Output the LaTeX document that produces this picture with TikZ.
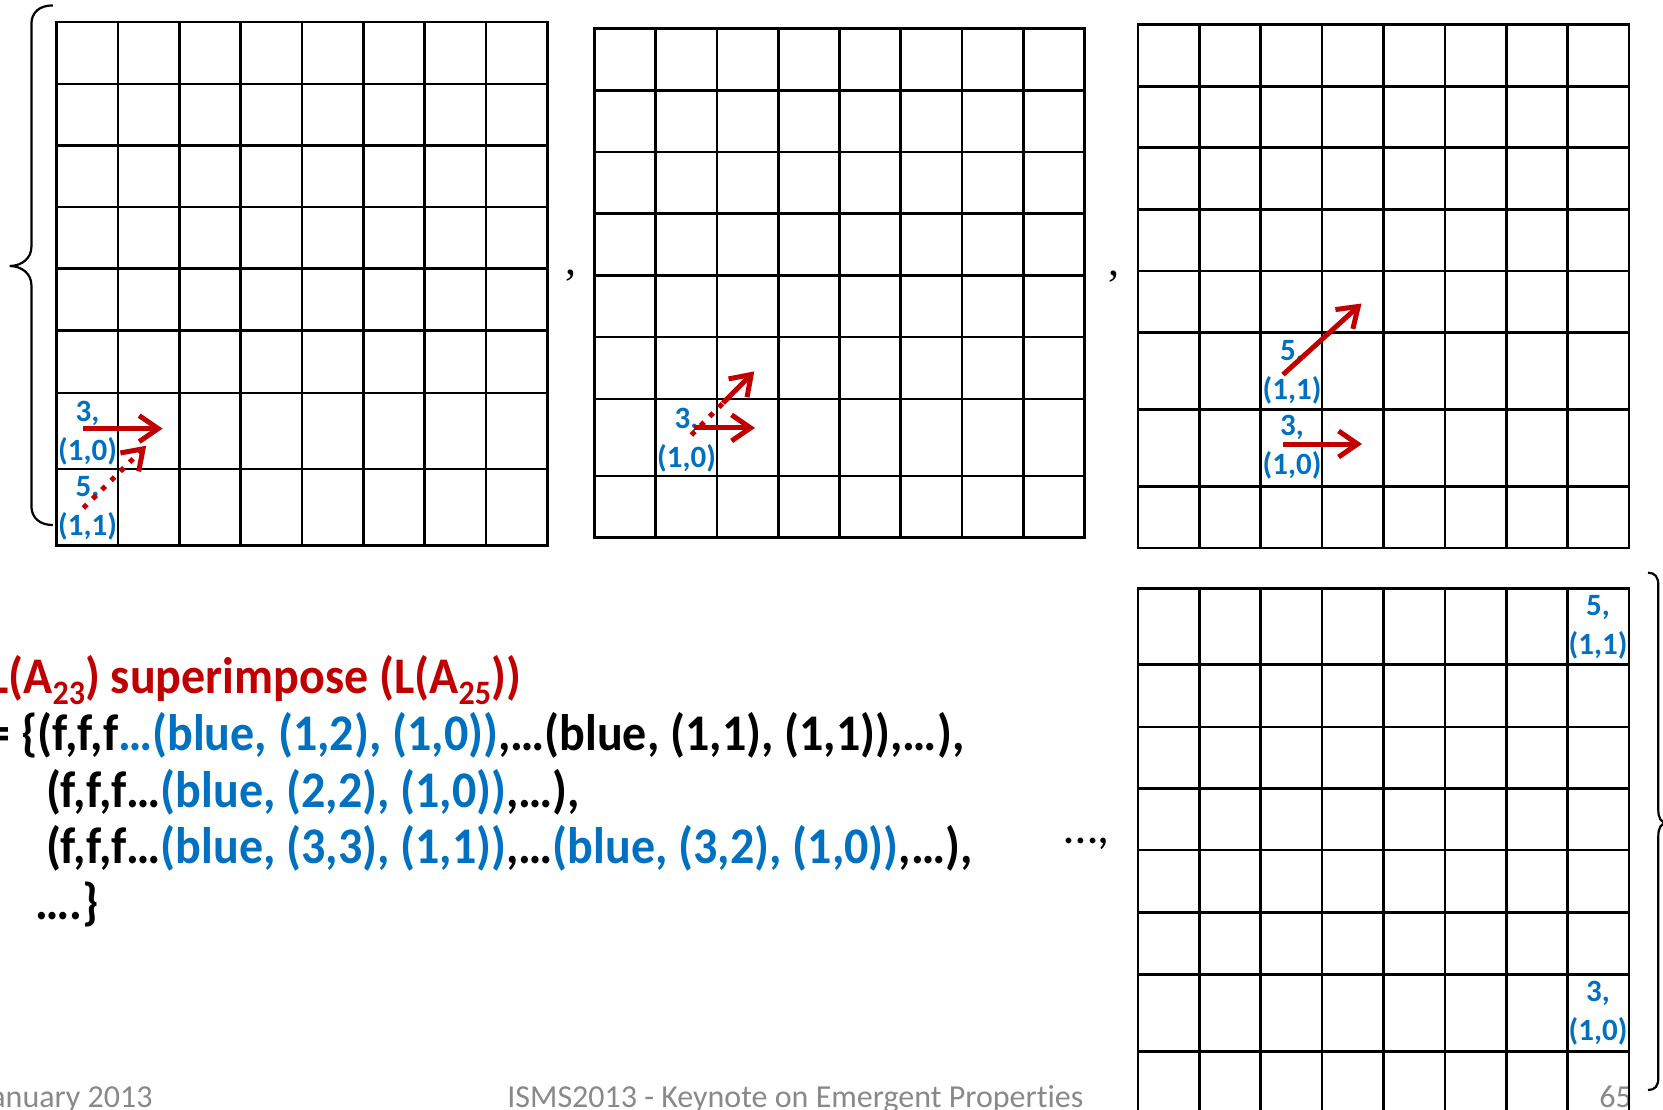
\documentclass[tikz,border=0pt]{standalone}
\usepackage{fontspec}
\setmainfont{Carlito}[Ligatures=NoCommon]
\newfontfamily\serifcomma{Liberation Serif}
\usetikzlibrary{arrows.meta}
\definecolor{slred}{RGB}{192,0,0}
\definecolor{slblue}{RGB}{0,112,192}
\definecolor{slgray}{RGB}{137,137,137}
\newcommand\sbs[1]{\raisebox{-0.22em}{\fontsize{16}{16}\selectfont #1}}
\newcommand\tallt[1]{\scalebox{1}[1.07]{#1}}
\begin{document}
\begin{tikzpicture}[x=0.5pt,y=-0.5pt,
  gridline/.style={line width=1.35pt, black, line cap=rect},
  lbl/.style={text=slblue, font=\fontsize{15.5}{19.5}\selectfont\bfseries, align=center, inner sep=0pt},
  vec/.style={draw=slred, line width=2.5pt, -{Straight Barb[length=9.5pt,width=13pt]}},
  dotvec/.style={vec, dash pattern=on 2.5pt off 4pt},
  dotseg/.style={draw=slred, line width=2.5pt, dash pattern=on 2.5pt off 4pt},
  txt/.style={font=\fontsize{24}{28}\selectfont\bfseries, inner sep=0pt, anchor=base west},
  foot/.style={font=\fontsize{16}{19}\selectfont, text=slgray, inner sep=0pt},
  brace/.style={line width=1.1pt, black},
  sep/.style={font=\serifcomma\fontsize{22}{22}\selectfont, inner sep=0pt},
]
\useasboundingbox (0,0) rectangle (1663,1109);

% footer (under the grids)
\node[foot, anchor=base east] (f1) at (153,1107) {January 2013};
\node[foot, anchor=base west] (f2) at (507,1107) {ISMS2013 - Keynote on Emergent Properties};
\node[foot, anchor=base west] (f3) at (1599,1107) {65};

% grid 1
\foreach \i in {0,...,8} \draw[gridline] ({56.6+\i*61.34},22.1) -- ({56.6+\i*61.34},545.7);
\foreach \r in {22.1,83.9,145.4,207.1,268.6,330.4,392.9,468.9,545.7} \draw[gridline] (56.6,\r) -- (547.3,\r);
% grid 2
\foreach \i in {0,...,8} \draw[gridline] ({594.3+\i*61.29},28.6) -- ({594.3+\i*61.29},537.5);
\foreach \r in {28.6,90.4,152.1,213.6,275.4,337.1,398.9,476.1,537.5} \draw[gridline] (594.3,\r) -- (1084.6,\r);
% grid 3
\foreach \i in {0,...,8} \draw[gridline] ({1138+\i*61.375},24.8) -- ({1138+\i*61.375},548.1);
\foreach \r in {24.8,86.3,147.8,209.3,270.9,332.4,409.5,486.6,548.1} \draw[gridline] (1138,\r) -- (1629,\r);
% grid 4
\foreach \i in {0,...,8} \draw[gridline] ({1138+\i*61.375},588.4) -- ({1138+\i*61.375},1125);
\foreach \r in {588.4,664.8,727.0,788.5,850.1,912.3,974.5,1051.6} \draw[gridline] (1138,\r) -- (1629,\r);

% braces
\draw[brace] (52.8,5.4) .. controls (40,5.4) and (31.4,12) .. (31.4,24) -- (31.4,247)
  .. controls (31.4,258) and (22,266) .. (9.6,266)
  .. controls (22,266) and (31.4,274) .. (31.4,285) -- (31.4,506)
  .. controls (31.4,518) and (40,525) .. (52.8,525);
\draw[brace] (1648,572.7) .. controls (1655,572.7) and (1658.3,577) .. (1658.3,585) -- (1658.3,810)
  .. controls (1658.3,818) and (1661,823) .. (1667,823)
  .. controls (1661,823) and (1658.3,828) .. (1658.3,836) -- (1658.3,1078)
  .. controls (1658.3,1086) and (1655,1090) .. (1648,1090);

% separators
\node[sep] (c1) at (570.5,276) {,};
\node[sep] (c2) at (1114,277) {,};
\node[font=\fontsize{24}{28}\selectfont, inner sep=0pt, anchor=base west] (c3) at (1064,843) {…,};

% labels
\node[lbl] (g1a) at (87.6,432.7) {3,\\(1,0)};
\node[lbl] (g1b) at (87.6,508) {5,\\(1,1)};
\node[lbl] (g2a) at (686.5,440) {3,\\(1,0)};
\node[lbl] (g3a) at (1292,372.3) {5,\\(1,1)};
\node[lbl] (g3b) at (1292,447.4) {3,\\(1,0)};
\node[lbl] (g4a) at (1598,627.5) {5,\\(1,1)};
\node[lbl] (g4b) at (1598,1013) {3,\\(1,0)};

% vectors
\coordinate (a1s) at (83.4,428.6); \coordinate (a1e) at (162.6,428.6);
\coordinate (b1s) at (83.4,508);   \coordinate (b1e) at (146.2,445.7);
\coordinate (a2s) at (694.3,427.9); \coordinate (a2e) at (755,427.9);
\coordinate (b2s) at (691.4,435); \coordinate (b2m) at (723,403); \coordinate (b2e) at (754.3,371.4);
\coordinate (a3s) at (1283,444); \coordinate (a3e) at (1362,444);
\coordinate (b3s) at (1283,374.6); \coordinate (b3e) at (1361.5,303.5);
\draw[vec] (a1s) -- (a1e);
\draw[dotvec] (b1s) -- (b1e);
\draw[vec] (a2s) -- (a2e);
\draw[dotseg] (b2s) -- (b2m);
\draw[vec] (b2m) -- (b2e);
\draw[vec] (a3s) -- (a3e);
\draw[vec] (b3s) -- (b3e);

% main text
\node[txt, text=slred] (t1) at (-12,693) {\tallt{L(A\sbs{23}) superimpose (L(A\sbs{25}))}};
\node[txt] (t2) at (-14,750) {\tallt{= \{(f,f,f\textcolor{slblue}{…(blue, (1,2), (1,0))},…(blue, (1,1), (1,1)),…),}};
\node[txt] (t3) at (45.6,807) {\tallt{(f,f,f…\textcolor{slblue}{(blue, (2,2), (1,0))},…),}};
\node[txt] (t4) at (45.6,863) {\tallt{(f,f,f…\textcolor{slblue}{(blue, (3,3), (1,1))},…\textcolor{slblue}{(blue, (3,2), (1,0))},…),}};
\node[txt] (t5) at (35,919) {\tallt{….\}}};
\end{tikzpicture}
\end{document}
